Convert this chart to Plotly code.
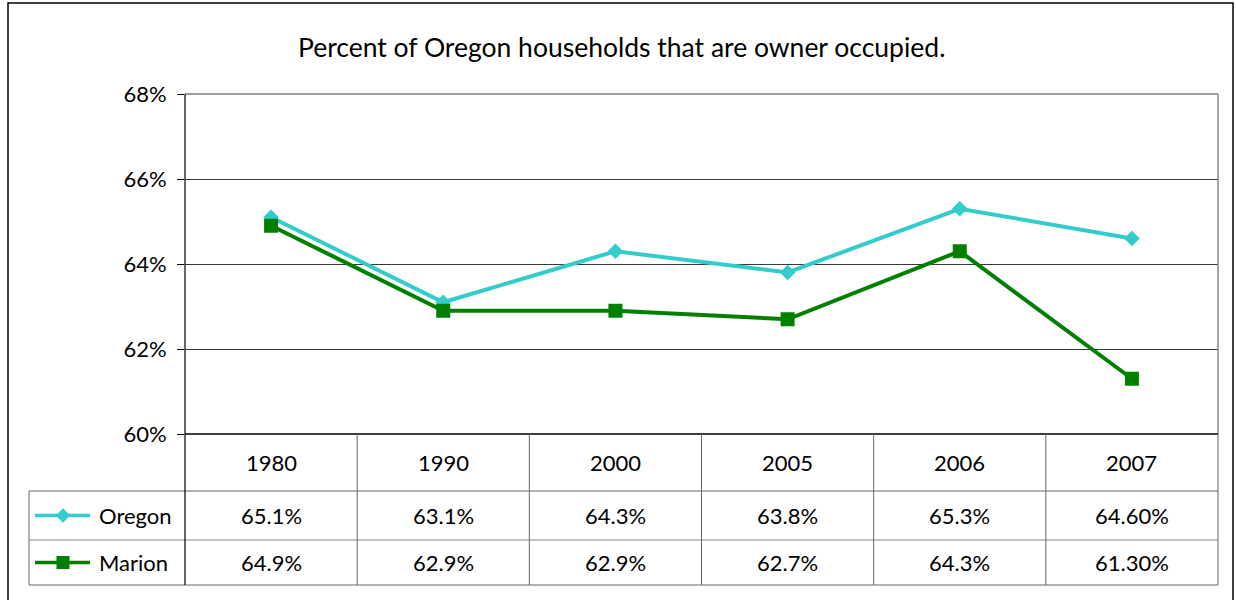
import plotly.graph_objects as go

# Household ownership data
years = ["1980", "1990", "2000", "2005", "2006", "2007"]
oregon = [65.1, 63.1, 64.3, 63.8, 65.3, 64.6]
marion = [64.9, 62.9, 62.9, 62.7, 64.3, 61.3]
oregon_labels = ["65.1%", "63.1%", "64.3%", "63.8%", "65.3%", "64.60%"]
marion_labels = ["64.9%", "62.9%", "62.9%", "62.7%", "64.3%", "61.30%"]
y_ticks = [60, 62, 64, 66, 68]

W, H = 1236, 600
FONT = "Lato"
OREGON_C = "#33CCCC"
MARION_C = "#008000"

# Pixel layout of plot and data table
PX_L, PX_R = 185, 1218
PX_T, PX_B = 94, 434
ROW_HDR_B, ROW_OR_B, ROW_MA_B = 491, 540, 585
KEY_L = 29

fig = go.Figure()

xs = list(range(len(years)))
fig.add_trace(go.Scatter(
    x=xs, y=oregon, mode="lines+markers", name="Oregon",
    line=dict(color=OREGON_C, width=4),
    marker=dict(symbol="diamond", size=12, color=OREGON_C),
    showlegend=False,
))
fig.add_trace(go.Scatter(
    x=xs, y=marion, mode="lines+markers", name="Marion",
    line=dict(color=MARION_C, width=4),
    marker=dict(symbol="square", size=14, color=MARION_C),
    showlegend=False,
))

# Legend keys inside the data table (full-page pixel axes)
row_or_y = (ROW_HDR_B + ROW_OR_B) / 2
row_ma_y = (ROW_OR_B + ROW_MA_B) / 2
for name, color, sym, size, yy in [
    ("Oregon", OREGON_C, "diamond", 11, row_or_y),
    ("Marion", MARION_C, "square", 13, row_ma_y),
]:
    fig.add_trace(go.Scatter(
        x=[35, 90], y=[yy, yy], mode="lines", xaxis="x2", yaxis="y2",
        line=dict(color=color, width=3.5), showlegend=False, hoverinfo="skip",
    ))
    fig.add_trace(go.Scatter(
        x=[63], y=[yy], mode="markers", xaxis="x2", yaxis="y2",
        marker=dict(symbol=sym, size=size, color=color),
        showlegend=False, hoverinfo="skip",
    ))

shapes = []
line_gray = dict(color="#666666", width=1)


def hline(x0, x1, y, ln):
    shapes.append(dict(type="line", xref="x2", yref="y2", x0=x0, x1=x1, y0=y, y1=y, line=ln))


def vline(x, y0, y1, ln):
    shapes.append(dict(type="line", xref="x2", yref="y2", x0=x, x1=x, y0=y0, y1=y1, line=ln))


# Outer chart frame
shapes.append(dict(type="rect", xref="x2", yref="y2", x0=8, x1=1233, y0=3, y1=605,
                   line=dict(color="#000000", width=1.5)))
# Plot area top and right border
hline(PX_L, PX_R, PX_T, dict(color="#3a3a3a", width=1))
vline(PX_R, PX_T, PX_B, dict(color="#888888", width=1.5))
# Table grid
hline(PX_L, PX_R, PX_B, dict(color="#000000", width=1.5))
hline(KEY_L, PX_R, ROW_HDR_B, line_gray)
hline(KEY_L, PX_R, ROW_OR_B, dict(color="#888888", width=1))
hline(KEY_L, PX_R, ROW_MA_B, line_gray)
vline(KEY_L, ROW_HDR_B, ROW_MA_B, line_gray)
vline(PX_L, PX_T, ROW_MA_B, dict(color="#000000", width=1.2))
col_w = (PX_R - PX_L) / len(years)
for i in range(1, len(years) + 1):
    vline(PX_L + i * col_w, PX_B, ROW_MA_B, line_gray)

annotations = []
hdr_y = (PX_B + ROW_HDR_B) / 2
tfont = dict(family=FONT, size=22, color="#000000")
for i, yr in enumerate(years):
    annotations.append(dict(x=i, y=hdr_y, xref="x", yref="y2", text=yr, showarrow=False, font=tfont))
    annotations.append(dict(x=i, y=row_or_y, xref="x", yref="y2", text=oregon_labels[i],
                            showarrow=False, font=tfont))
    annotations.append(dict(x=i, y=row_ma_y, xref="x", yref="y2", text=marion_labels[i],
                            showarrow=False, font=tfont))
for name, yy in [("Oregon", row_or_y), ("Marion", row_ma_y)]:
    annotations.append(dict(x=97, y=yy, xref="x2", yref="y2", text=name, showarrow=False,
                            xanchor="left", font=tfont))

fig.update_layout(
    width=W, height=H, autosize=False,
    margin=dict(l=0, r=0, t=0, b=0, pad=0, autoexpand=False),
    paper_bgcolor="white", plot_bgcolor="rgba(0,0,0,0)",
    title=dict(text="Percent of Oregon households that are owner occupied.",
               x=0.503, xanchor="center", y=1 - 48 / H, yanchor="middle",
               automargin=False,
               font=dict(family=FONT, size=26.5, color="#000000")),
    xaxis=dict(domain=[PX_L / W, PX_R / W], range=[-0.5, len(years) - 0.5],
               showticklabels=False, showgrid=False, zeroline=False, ticks="",
               anchor="y", automargin=False),
    yaxis=dict(domain=[1 - PX_B / H, 1 - PX_T / H], range=[60, 68],
               tickvals=y_ticks, ticktext=[f"{v}%" for v in y_ticks],
               ticks="outside", ticklen=7, tickcolor="#000000",
               ticklabelstandoff=6, anchor="x", automargin=False,
               showgrid=True, gridcolor="#3a3a3a", gridwidth=1, zeroline=False,
               tickfont=tfont),
    xaxis2=dict(domain=[0, 1], range=[0, W], visible=False, anchor="y2", automargin=False),
    yaxis2=dict(domain=[0, 1], range=[H, 0], visible=False, anchor="x2", automargin=False),
    shapes=shapes,
    annotations=annotations,
)

fig.write_html("out.html")
